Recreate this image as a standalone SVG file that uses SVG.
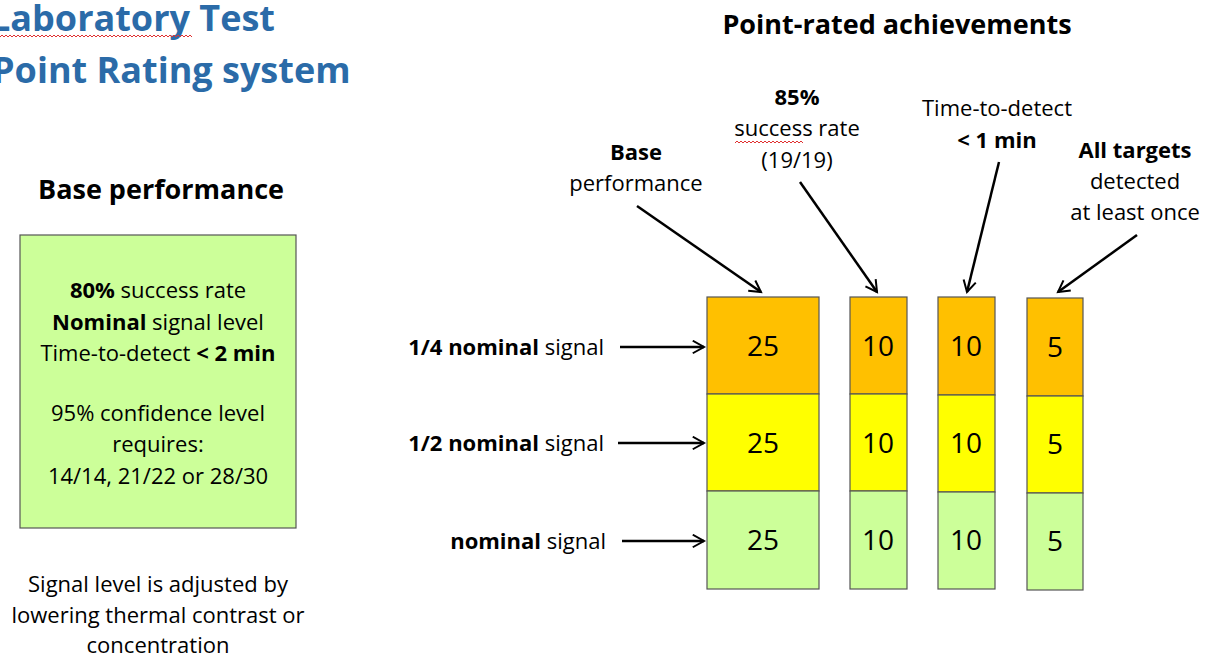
<svg xmlns="http://www.w3.org/2000/svg" width="1211" height="657" viewBox="0 0 1211 657">
<style>
text{font-family:"Open Sans","Liberation Sans",sans-serif;fill:#000}
.t{font-weight:bold;fill:#2B6BA8;font-size:36px}
.h{font-weight:bold;font-size:27px;text-anchor:middle}
.a{font-size:22px;text-anchor:middle}
.l{font-size:22px;text-anchor:end}
.n{font-size:28px;text-anchor:middle}
.b{font-weight:bold}
.o{fill:#FFC000;stroke:#555;stroke-width:1.2}
.y{fill:#FFFF00;stroke:#555;stroke-width:1.2}
.g{fill:#CCFF99;stroke:#555;stroke-width:1.2}
.c{stroke:#000;stroke-width:2.5;fill:none;marker-end:url(#ah)}
.sq{stroke:#E03030;stroke-width:1;fill:none}
</style>
<defs>
<marker id="ah" viewBox="0 0 12 12" refX="10" refY="6" markerWidth="6" markerHeight="6" orient="auto" markerUnits="strokeWidth">
<path d="M1,1 L10,6 L1,11" fill="none" stroke="#000" stroke-width="1.6"/>
</marker>
</defs>
<g id="title">
<text class="t" x="-10" y="31">Laboratory Test</text>
<text class="t" x="-8" y="83">Point Rating system</text>
<path class="sq" d="M0,37 l2,-2 l2,2 l2,-2 l2,2 l2,-2 l2,2 l2,-2 l2,2 l2,-2 l2,2 l2,-2 l2,2 l2,-2 l2,2 l2,-2 l2,2 l2,-2 l2,2 l2,-2 l2,2 l2,-2 l2,2 l2,-2 l2,2 l2,-2 l2,2 l2,-2 l2,2 l2,-2 l2,2 l2,-2 l2,2 l2,-2 l2,2 l2,-2 l2,2 l2,-2 l2,2 l2,-2 l2,2 l2,-2 l2,2 l2,-2 l2,2 l2,-2 l2,2 l2,-2 l2,2 l2,-2 l2,2 l2,-2 l2,2 l2,-2 l2,2 l2,-2 l2,2 l2,-2 l2,2 l2,-2 l2,2 l2,-2 l2,2 l2,-2 l2,2 l2,-2 l2,2 l2,-2 l2,2 l2,-2 l2,2 l2,-2 l2,2 l2,-2 l2,2 l2,-2 l2,2 l2,-2 l2,2 l2,-2 l2,2 l2,-2 l2,2 l2,-2 l2,2 l2,-2 l2,2 l2,-2 l2,2 l2,-2 l2,2 l2,-2 l2,2 l2,-2 l2,2 l2,-2 l2,2"/>
</g>
<g id="base-performance">
<text class="h" x="161" y="199">Base performance</text>
<rect class="g" x="20" y="235" width="276" height="293"/>
<text class="a" x="158" y="298"><tspan class="b">80%</tspan> success rate</text>
<text class="a" x="158" y="330"><tspan class="b">Nominal</tspan> signal level</text>
<text class="a" x="158" y="361">Time-to-detect <tspan class="b">&lt; 2 min</tspan></text>
<text class="a" x="158" y="421">95% confidence level</text>
<text class="a" x="158" y="452">requires:</text>
<text class="a" x="158" y="484">14/14, 21/22 or 28/30</text>
</g>
<g id="note">
<text class="a" x="158" y="592">Signal level is adjusted by</text>
<text class="a" x="158" y="623">lowering thermal contrast or</text>
<text class="a" x="158" y="653">concentration</text>
</g>
<g id="heading">
<text class="h" x="897" y="34">Point-rated achievements</text>
</g>
<g id="ann-base">
<text class="a b" x="636" y="160">Base</text>
<text class="a" x="636" y="191">performance</text>
</g>
<g id="ann-85">
<text class="a b" x="797" y="105">85%</text>
<text class="a" x="797" y="136">success rate</text>
<path class="sq" d="M735,143 l2,-2 l2,2 l2,-2 l2,2 l2,-2 l2,2 l2,-2 l2,2 l2,-2 l2,2 l2,-2 l2,2 l2,-2 l2,2 l2,-2 l2,2 l2,-2 l2,2 l2,-2 l2,2 l2,-2 l2,2 l2,-2 l2,2 l2,-2 l2,2 l2,-2 l2,2 l2,-2 l2,2 l2,-2 l2,2 l2,-2 l2,2"/>
<text class="a" x="797" y="168">(19/19)</text>
</g>
<g id="ann-time">
<text class="a" x="997" y="116">Time-to-detect</text>
<text class="a b" x="997" y="148">&lt; 1 min</text>
</g>
<g id="ann-all">
<text class="a b" x="1135" y="158">All targets</text>
<text class="a" x="1135" y="189">detected</text>
<text class="a" x="1135" y="220">at least once</text>
</g>
<g id="row-labels">
<text class="l" x="604" y="355"><tspan class="b">1/4 nominal</tspan> signal</text>
<text class="l" x="604" y="451"><tspan class="b">1/2 nominal</tspan> signal</text>
<text class="l" x="606" y="549"><tspan class="b">nominal</tspan> signal</text>
</g>
<g id="col-base">
<rect class="o" x="707" y="297" width="112" height="97"/>
<rect class="y" x="707" y="394" width="112" height="97"/>
<rect class="g" x="707" y="491" width="112" height="98"/>
<text class="n" x="763" y="356">25</text>
<text class="n" x="763" y="453">25</text>
<text class="n" x="763" y="550">25</text>
</g>
<g id="col-85">
<rect class="o" x="850" y="297" width="57" height="97"/>
<rect class="y" x="850" y="394" width="57" height="97"/>
<rect class="g" x="850" y="491" width="57" height="98"/>
<text class="n" x="878" y="356">10</text>
<text class="n" x="878" y="453">10</text>
<text class="n" x="878" y="550">10</text>
</g>
<g id="col-time">
<rect class="o" x="938" y="297" width="57" height="98"/>
<rect class="y" x="938" y="395" width="57" height="97"/>
<rect class="g" x="938" y="492" width="57" height="97"/>
<text class="n" x="966" y="356">10</text>
<text class="n" x="966" y="453">10</text>
<text class="n" x="966" y="550">10</text>
</g>
<g id="col-all">
<rect class="o" x="1027" y="298" width="56" height="98"/>
<rect class="y" x="1027" y="396" width="56" height="97"/>
<rect class="g" x="1027" y="493" width="56" height="97"/>
<text class="n" x="1055" y="357">5</text>
<text class="n" x="1055" y="454">5</text>
<text class="n" x="1055" y="551">5</text>
</g>
<g id="connectors">
<line class="c" x1="620" y1="347" x2="704" y2="347"/>
<line class="c" x1="618" y1="443" x2="704" y2="443"/>
<line class="c" x1="622" y1="541" x2="704" y2="541"/>
<line class="c" x1="637" y1="206" x2="761" y2="292"/>
<line class="c" x1="800" y1="182" x2="877" y2="292"/>
<line class="c" x1="999" y1="162" x2="967" y2="292"/>
<line class="c" x1="1137" y1="235" x2="1058" y2="292"/>
</g>
</svg>
